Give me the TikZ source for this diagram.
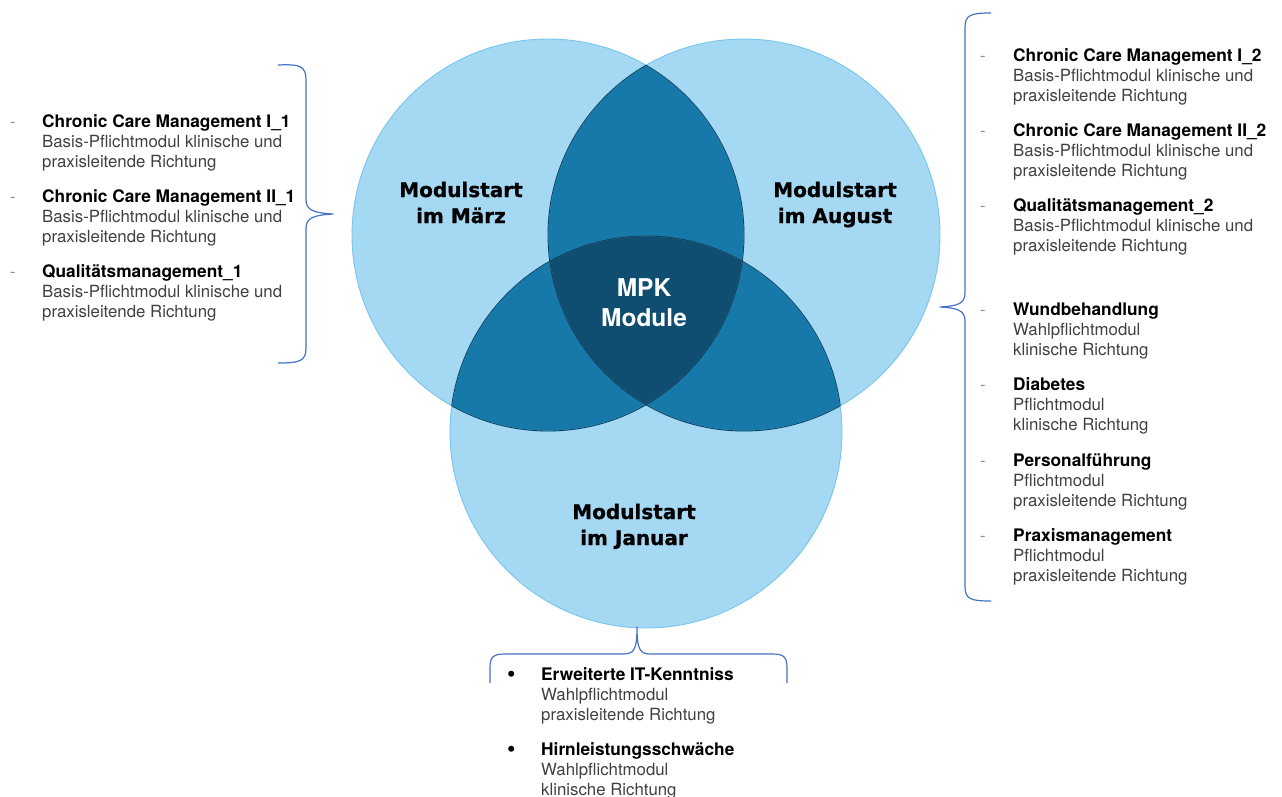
\documentclass[tikz,border=0pt]{standalone}
\usepackage{fontspec}
\setmainfont{TeX Gyre Heros}
\newfontfamily\heavyfont[BoldFont={DejaVu Sans Bold}, BoldFeatures={FakeBold=0.8}]{DejaVu Sans}
\definecolor{lightc}{HTML}{A4D8F3}
\definecolor{midc}{HTML}{1679AA}
\definecolor{darkc}{HTML}{0F4E70}
\definecolor{edgel}{HTML}{78C5EE}
\definecolor{edged}{HTML}{0D4564}
\definecolor{bracec}{HTML}{4472C4}
\definecolor{txtgray}{HTML}{404040}
\definecolor{dashgray}{HTML}{8A8A8A}
\newcommand\modtext[3]{\begin{tabular}[t]{@{}l@{}}\textcolor{black}{\fontsize{17.3}{20}\selectfont\bfseries #1}\\ #2\\ #3\end{tabular}}
\newcommand\circtext[2]{\begin{tabular}[t]{@{}c@{}}#1\\ #2\end{tabular}}
\begin{document}
\begin{tikzpicture}[x=1pt,y=-1pt,
  listtext/.style={anchor=base west, inner sep=0pt, text=txtgray, font=\fontsize{16.8}{20}\selectfont},
  dashmark/.style={anchor=base west, inner sep=0pt, text=dashgray, font=\fontsize{16.5}{20}\selectfont},
  bulletmark/.style={anchor=base west, inner sep=0pt, text=black, font=\fontsize{24}{20}\selectfont},
  circlabel/.style={anchor=base, inner sep=0pt, text=black, font=\heavyfont\bfseries\fontsize{20}{26}\selectfont},
  centerlabel/.style={anchor=base, inner sep=0pt, text=white, font=\bfseries\fontsize{24.5}{30}\selectfont},
  bracestyle/.style={draw=bracec, line width=1.2pt, line join=round}]
\useasboundingbox (0,0) rectangle (1282,796);
\coordinate (cL) at (548,235);
\coordinate (cR) at (744,235);
\coordinate (cB) at (646,432);
\def\rr{196pt}
% base fills
\fill[lightc] (cL) circle[radius=\rr];
\fill[lightc] (cR) circle[radius=\rr];
\fill[lightc] (cB) circle[radius=\rr];
% pairwise
\begin{scope}
  \clip (cL) circle[radius=\rr];
  \fill[midc] (cR) circle[radius=\rr];
  \fill[midc] (cB) circle[radius=\rr];
  \clip (cR) circle[radius=\rr];
  \fill[darkc] (cB) circle[radius=\rr];
\end{scope}
\begin{scope}
  \clip (cR) circle[radius=\rr];
  \fill[midc] (cB) circle[radius=\rr];
  \clip (cL) circle[radius=\rr];
  \fill[darkc] (cB) circle[radius=\rr];
\end{scope}
% outlines
\draw[edgel, line width=0.9pt] (cL) circle[radius=\rr];
\draw[edgel, line width=0.9pt] (cR) circle[radius=\rr];
\draw[edgel, line width=0.9pt] (cB) circle[radius=\rr];
\begin{scope}
  \clip (cL) circle[radius=\rr];
  \draw[edged, line width=0.9pt] (cR) circle[radius=\rr];
  \draw[edged, line width=0.9pt] (cB) circle[radius=\rr];
\end{scope}
\begin{scope}
  \clip (cR) circle[radius=\rr];
  \draw[edged, line width=0.9pt] (cL) circle[radius=\rr];
  \draw[edged, line width=0.9pt] (cB) circle[radius=\rr];
\end{scope}
\begin{scope}
  \clip (cB) circle[radius=\rr];
  \draw[edged, line width=0.9pt] (cL) circle[radius=\rr];
  \draw[edged, line width=0.9pt] (cR) circle[radius=\rr];
\end{scope}
% circle labels
\node[circlabel] (lmaerz) at (461,197) {\circtext{Modulstart}{im März}};
\node[circlabel] (laug) at (835,197) {\circtext{Modulstart}{im August}};
\node[circlabel] (ljan) at (634,519) {\circtext{Modulstart}{im Januar}};
\node[centerlabel] (lmpk) at (644,296) {\circtext{MPK}{Module}};
% braces
\coordinate (tipL) at (333,214);
\coordinate (tipR) at (940,307);
\coordinate (tipB) at (637,627);
\draw[bracestyle] (278,65) .. controls (300,64) and (306,66) .. (306,80) -- (306,200)
  .. controls (306,211) and (316,213) .. (tipL)
  .. controls (316,215) and (306,217) .. (306,228) -- (306,348)
  .. controls (306,361) and (300,363) .. (278,363);
\draw[bracestyle] (991,13) .. controls (970,13) and (965,15) .. (965,28) -- (965,293)
  .. controls (965,304) and (957,306) .. (tipR)
  .. controls (957,308) and (965,310) .. (965,321) -- (965,586)
  .. controls (965,599) and (970,601) .. (991,601);
\draw[bracestyle] (490,683) -- (490,668) .. controls (490,657) and (493,654) .. (505,654) -- (623,654)
  .. controls (634,654) and (637,650) .. (tipB)
  .. controls (637,650) and (640,654) .. (651,654) -- (772,654)
  .. controls (784,654) and (787,657) .. (787,668) -- (787,683);
% left list
\node[dashmark] (dl1) at (10,127) {-};
\node[listtext] (tl1) at (42,127) {\modtext{Chronic Care Management I\_1}{Basis-Pflichtmodul klinische und}{praxisleitende Richtung}};
\node[dashmark] (dl2) at (10,202) {-};
\node[listtext] (tl2) at (42,202) {\modtext{Chronic Care Management II\_1}{Basis-Pflichtmodul klinische und}{praxisleitende Richtung}};
\node[dashmark] (dl3) at (10,277) {-};
\node[listtext] (tl3) at (42,277) {\modtext{Qualitätsmanagement\_1}{Basis-Pflichtmodul klinische und}{praxisleitende Richtung}};
% right list
\node[dashmark] (dr1) at (980,61) {-};
\node[listtext] (tr1) at (1013,61) {\modtext{Chronic Care Management I\_2}{Basis-Pflichtmodul klinische und}{praxisleitende Richtung}};
\node[dashmark] (dr2) at (980,136) {-};
\node[listtext] (tr2) at (1013,136) {\modtext{Chronic Care Management II\_2}{Basis-Pflichtmodul klinische und}{praxisleitende Richtung}};
\node[dashmark] (dr3) at (980,211) {-};
\node[listtext] (tr3) at (1013,211) {\modtext{Qualitätsmanagement\_2}{Basis-Pflichtmodul klinische und}{praxisleitende Richtung}};
\node[dashmark] (dr4) at (980,315) {-};
\node[listtext] (tr4) at (1013,315) {\modtext{Wundbehandlung}{Wahlpflichtmodul}{klinische Richtung}};
\node[dashmark] (dr5) at (980,390) {-};
\node[listtext] (tr5) at (1013,390) {\modtext{Diabetes}{Pflichtmodul}{klinische Richtung}};
\node[dashmark] (dr6) at (980,466) {-};
\node[listtext] (tr6) at (1013,466) {\modtext{Personalführung}{Pflichtmodul}{praxisleitende Richtung}};
\node[dashmark] (dr7) at (980,541) {-};
\node[listtext] (tr7) at (1013,541) {\modtext{Praxismanagement}{Pflichtmodul}{praxisleitende Richtung}};
% bottom list
\node[bulletmark] (db1) at (507,682) {\textbullet};
\node[listtext] (tb1) at (541,680) {\modtext{Erweiterte IT-Kenntniss}{Wahlpflichtmodul}{praxisleitende Richtung}};
\node[bulletmark] (db2) at (507,757) {\textbullet};
\node[listtext] (tb2) at (541,755) {\modtext{Hirnleistungsschwäche}{Wahlpflichtmodul}{klinische Richtung}};
\end{tikzpicture}
\end{document}
